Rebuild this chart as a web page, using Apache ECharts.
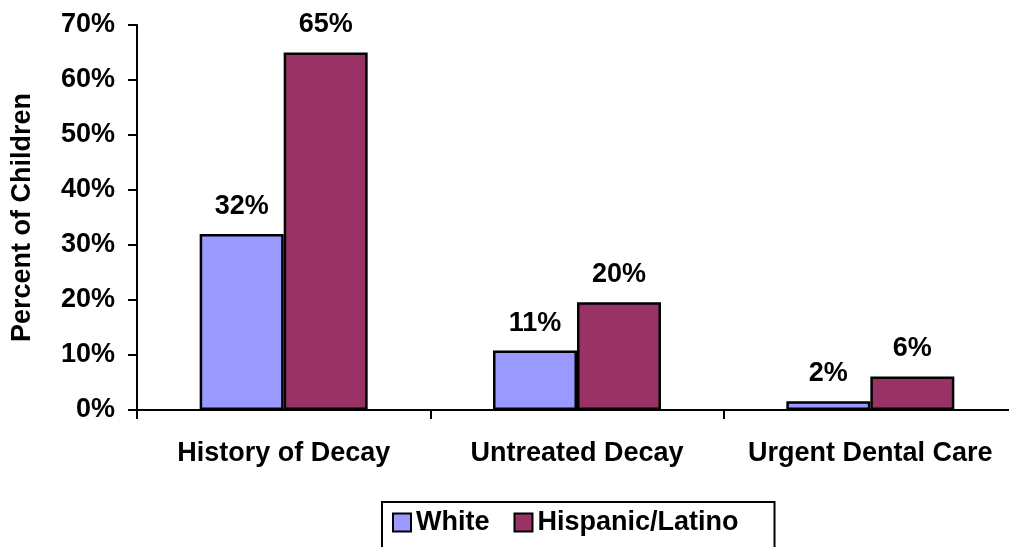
<!DOCTYPE html>
<html>
<head>
<meta charset="utf-8">
<script src="https://cdn.jsdelivr.net/npm/echarts@6/dist/echarts.min.js"></script>
<style>
	html, body { margin: 0; padding: 0; background: #fff; }
	#chart { width: 1009px; height: 547px; }
</style>
</head>
<body>
<div id="chart"></div>
<script>
const categories = ['History of Decay', 'Untreated Decay', 'Urgent Dental Care'];
const whiteValues = [32, 10.8, 1.6];
const hispanicValues = [65, 19.6, 6.1];
const seriesNames = ['White', 'Hispanic/Latino'];
const yTicks = [0, 10, 20, 30, 40, 50, 60, 70];

const font = '"Liberation Sans", Arial, sans-serif';
const fs = 27;

let mychart = echarts.init(document.getElementById('chart'));

function barLabel() {
	return {
		show: true,
		position: 'top',
		distance: 14,
		color: '#000',
		fontFamily: font,
		fontWeight: 'bold',
		fontSize: fs,
		formatter: function (p) {
			return Math.round(p.value) + '%';
		}
	};
}

let option = {
	animation: false,
	backgroundColor: '#fff',
	grid: {
		left: 137,
		right: -8,
		top: 25,
		bottom: 137,
		outerBoundsMode: 'none'
	},
	legend: {
		data: seriesNames,
		left: 382,
		top: 502,
		padding: [7, 36, 12, 10],
		itemGap: 24,
		itemWidth: 18,
		itemHeight: 18,
		borderColor: '#000',
		borderWidth: 2,
		backgroundColor: '#fff',
		icon: 'rect',
		textStyle: {
			color: '#000',
			fontFamily: font,
			fontWeight: 'bold',
			fontSize: fs
		}
	},
	xAxis: {
		type: 'category',
		data: categories,
		axisLine: { lineStyle: { color: '#000', width: 2 } },
		axisTick: { show: true, length: 9, lineStyle: { color: '#000', width: 2 } },
		axisLabel: {
			color: '#000',
			fontFamily: font,
			fontWeight: 'bold',
			fontSize: fs,
			margin: 30,
			interval: 0
		}
	},
	yAxis: {
		type: 'value',
		min: yTicks[0],
		max: yTicks[yTicks.length - 1],
		interval: 10,
		name: 'Percent of Children',
		nameLocation: 'middle',
		nameGap: 101,
		nameTextStyle: {
			color: '#000',
			fontFamily: font,
			fontWeight: 'bold',
			fontSize: fs
		},
		axisLine: { show: true, lineStyle: { color: '#000', width: 2 } },
		axisTick: { show: true, length: 9, lineStyle: { color: '#000', width: 2 } },
		splitLine: { show: false },
		axisLabel: {
			color: '#000',
			fontFamily: font,
			fontWeight: 'bold',
			fontSize: fs,
			margin: 22,
			formatter: '{value}%'
		}
	},
	series: [{
		name: seriesNames[0],
		type: 'bar',
		data: whiteValues,
		barWidth: 84,
		barGap: '0%',
		itemStyle: { color: '#9999FF', borderColor: '#000', borderWidth: 2.5 },
		label: barLabel()
	}, {
		name: seriesNames[1],
		type: 'bar',
		data: hispanicValues,
		barWidth: 84,
		barGap: '0%',
		itemStyle: { color: '#993366', borderColor: '#000', borderWidth: 2.5 },
		label: barLabel()
	}]
};

mychart.setOption(option);
</script>
</body>
</html>
